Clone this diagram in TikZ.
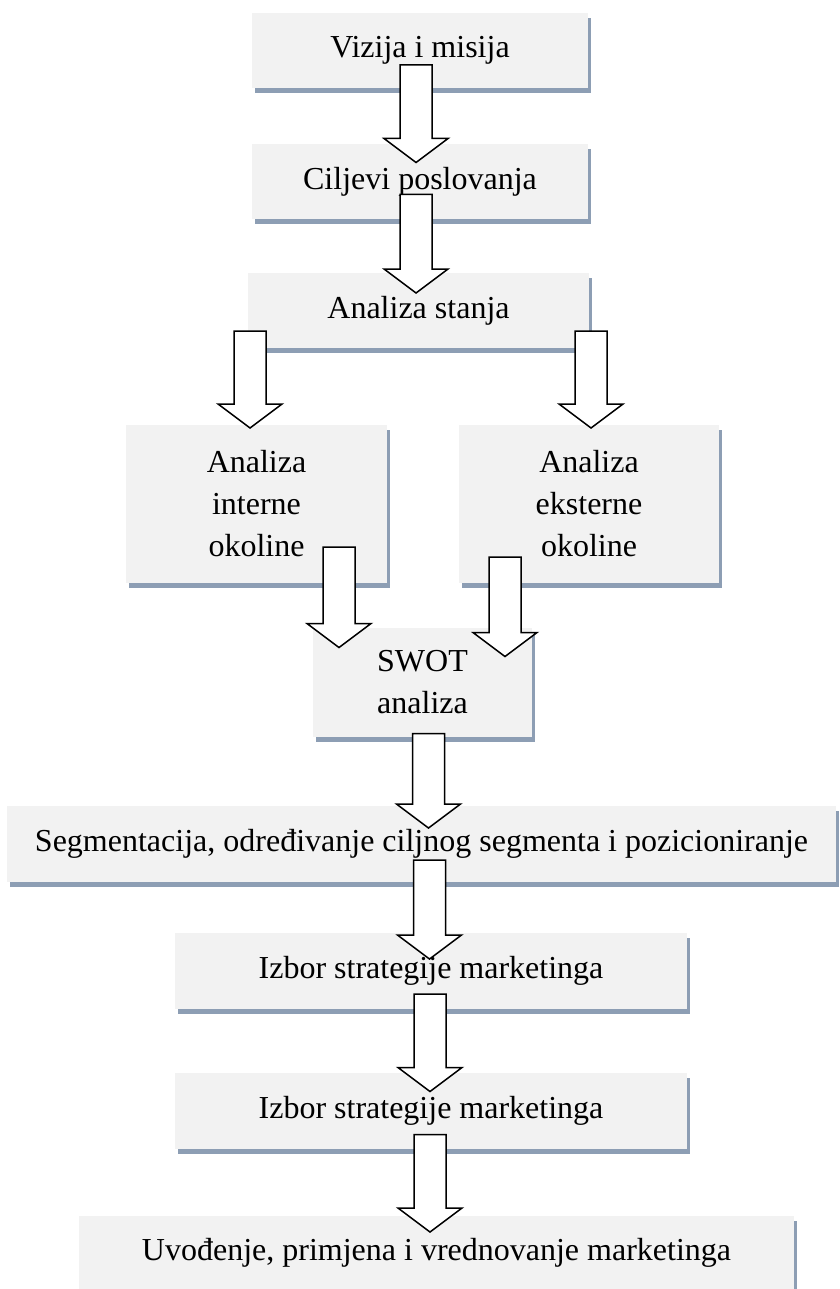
\documentclass[tikz,border=0pt]{standalone}
\usepackage{fontspec}
\setmainfont{Liberation Serif}
\usetikzlibrary{shadows,calc}
\definecolor{boxgray}{RGB}{242,242,242}
\definecolor{shadowblue}{RGB}{141,158,180}
%% hollow block arrow: start point (shaft top) and tip height
\newcommand{\bigarrow}[2]{%
  \draw[blockarr] let \p1=(#1), \p2=(#2) in
    (\x1-16pt,\y1) -- (\x1+16pt,\y1) -- (\x1+16pt,\y2+24pt) -- (\x1+32pt,\y2+24pt)
    -- (\x1,\y2) -- (\x1-32pt,\y2+24pt) -- (\x1-16pt,\y2+24pt) -- cycle;}
\begin{document}
\begin{tikzpicture}[x=1pt,y=-1pt,
    box/.style={rectangle,fill=boxgray,inner sep=0pt,outer sep=0pt,align=center,
      font=\fontsize{32}{42}\selectfont,
      drop shadow={shadow xshift=3pt,shadow yshift=-5pt,fill=shadowblue,opacity=1}},
    blockarr/.style={draw=black,fill=white,line width=1.5pt,miter limit=10}]
        \useasboundingbox (0,0) rectangle (839,1289);
        %% Boxes
        \node[box,minimum width=336,minimum height=75] (vizija) at (420,50.5) {Vizija i misija};
        \node[box,minimum width=336,minimum height=75] (ciljevi) at (420,182) {Ciljevi poslovanja};
        \node[box,minimum width=341,minimum height=75] (stanje) at (418.5,310.5) {Analiza stanja};
        \node[box,minimum width=261,minimum height=158] (interna) at (256.5,504) {Analiza\\interne\\okoline};
        \node[box,minimum width=260,minimum height=158] (eksterna) at (589,504) {Analiza\\eksterne\\okoline};
        \node[box,minimum width=219,minimum height=109] (swot) at (422.5,682) {SWOT\\analiza};
        \node[box,minimum width=829,minimum height=76] (segment) at (421.5,844) {Segmentacija, određivanje ciljnog segmenta i pozicioniranje};
        \node[box,minimum width=512,minimum height=76] (izbor) at (431,971) {Izbor strategije marketinga};
        \node[box,minimum width=512,minimum height=76] (izbordva) at (431,1110.5) {Izbor strategije marketinga};
        \node[box,minimum width=715,minimum height=74] (uvod) at (436.5,1253) {Uvođenje, primjena i vrednovanje marketinga};
        %% Arrows
        \bigarrow{[xshift=-4pt,yshift=23pt]vizija.south}{[yshift=-18pt]ciljevi.north}
        \bigarrow{[xshift=-4pt,yshift=25pt]ciljevi.south}{[yshift=-20pt]stanje.north}
        \bigarrow{[xshift=2pt,yshift=17pt]stanje.south west}{[yshift=-3pt]interna.north}
        \bigarrow{[xshift=2pt,yshift=17pt]stanje.south east}{[yshift=-3pt]eksterna.north}
        \bigarrow{[xshift=-48pt,yshift=36pt]interna.south east}{[yshift=-20pt]swot.north}
        \bigarrow{[xshift=46pt,yshift=26pt]eksterna.south west}{[yshift=-29pt]swot.north}
        \bigarrow{[xshift=6pt,yshift=3pt]swot.south}{[yshift=-22pt]segment.north}
        \bigarrow{[xshift=8pt,yshift=22pt]segment.south}{[yshift=-26pt]izbor.north}
        \bigarrow{[xshift=-1pt,yshift=15pt]izbor.south}{[yshift=-19pt]izbordva.north}
        \bigarrow{[xshift=-1pt,yshift=14pt]izbordva.south}{[yshift=-16pt]uvod.north}
    \end{tikzpicture}
\end{document}
